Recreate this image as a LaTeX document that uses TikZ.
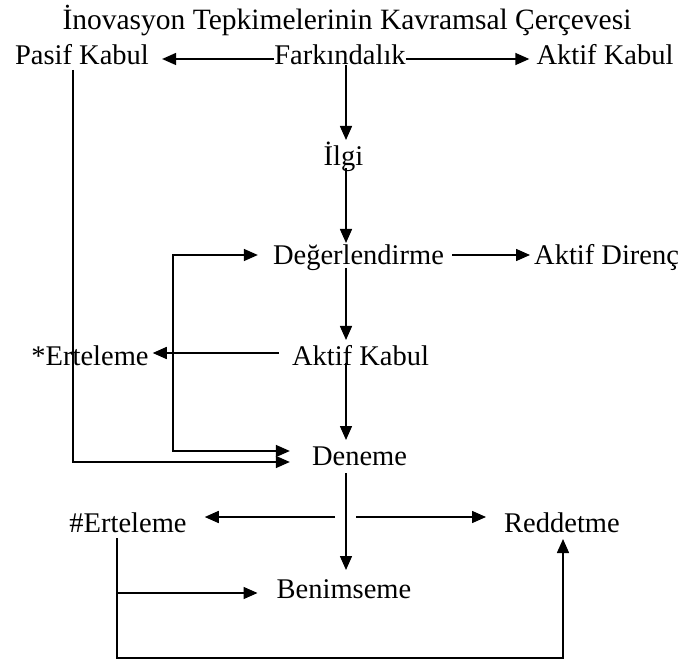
\documentclass[tikz,border=0pt]{standalone}
\usepackage{fontspec}
\setmainfont{Liberation Serif}
\usetikzlibrary{arrows.meta,calc}
\begin{document}
\begin{tikzpicture}[x=1pt,y=-1pt,
  lbl/.style={inner sep=0pt, anchor=base, font=\fontsize{28.5}{34}\selectfont},
  arr/.style={-{Triangle[length=14pt,width=12pt]}, line width=1.5pt}]
\useasboundingbox (0,0) rectangle (680,660);

% labels
\node[lbl, font=\fontsize{29.5}{35}\selectfont] (title) at (347,30) {İnovasyon Tepkimelerinin Kavramsal Çerçevesi};
\node[lbl] (pasif) at (82,65) {Pasif Kabul};
\node[lbl] (fark) at (340,65) {Farkındalık};
\node[lbl] (aktifA) at (605,65) {Aktif Kabul};
\node[lbl] (ilgi) at (343.5,166) {İlgi};
\node[lbl] (deger) at (358.5,265) {Değerlendirme};
\node[lbl, anchor=base west] (direnc) at (534,265) {Aktif Direnç};
\node[lbl] (ertA) at (90,365) {*Erteleme};
\node[lbl] (aktifB) at (360.5,365) {Aktif Kabul};
\node[lbl] (deneme) at (359.5,465) {Deneme};
\node[lbl] (ertB) at (128,532) {\#Erteleme};
\node[lbl] (red) at (562,532) {Reddetme};
\node[lbl] (benim) at (344,598) {Benimseme};

% main vertical axis
\coordinate (spine) at (346,0);
\draw[arr] (fark.base -| spine) -- ($(ilgi.base -| spine)+(0,-26)$);
\draw[arr] ($(ilgi.base -| spine)+(0,2)$) -- ($(deger.base -| spine)+(0,-22)$);
\draw[arr] ($(deger.base -| spine)+(0,3)$) -- ($(aktifB.base -| spine)+(0,-25)$);
\draw[arr] ($(aktifB.base -| spine)+(0,-2)$) -- ($(deneme.base -| spine)+(0,-25)$);
\draw[arr] ($(deneme.base -| spine)+(0,8)$) -- ($(benim.base -| spine)+(0,-28)$);

% first row
\draw[arr] ($(fark.base west)+(0,-6)$) -- ($(pasif.base east)+(13,-6)$);
\draw[arr] ($(fark.base east)+(0,-6)$) -- ($(aktifA.base west)+(-7,-6)$);

% evaluation
\draw[arr] ($(deger.base east)+(8,-10)$) -- ($(direnc.base west)+(-4,-10)$);
\draw[arr] ($(aktifB.base west)+(-13,-12)$) -- ($(ertA.base east)+(4,-12)$);
\coordinate (loop) at ($(ertA.base east)+(24,-12)$);
\draw[arr] (loop) |- ($(deger.base west)+(-15,-10)$);
\draw[arr] (loop) |- ($(deneme.base west)+(-22,-14)$);
\draw[arr] ($(pasif.base)+(-9,5)$) |- ($(deneme.base west)+(-22,-3)$);

% trial outcomes
\coordinate (split) at ($(deneme.base -| spine)+(0,52)$);
\draw[arr] ($(split)+(-11,0)$) -- ($(ertB.base east)+(18,-15)$);
\draw[arr] ($(split)+(10,0)$) -- ($(red.base west)+(-18,-15)$);
\draw[arr] ($(ertB.base)+(-11,6)$) -- ++(0,120) -| ($(red.base)+(1,7)$);
\coordinate (branch) at ($(ertB.base)+(-11,61)$);
\draw[arr] (branch) -- ($(benim.base west)+(-19,-5)$);
\end{tikzpicture}
\end{document}
